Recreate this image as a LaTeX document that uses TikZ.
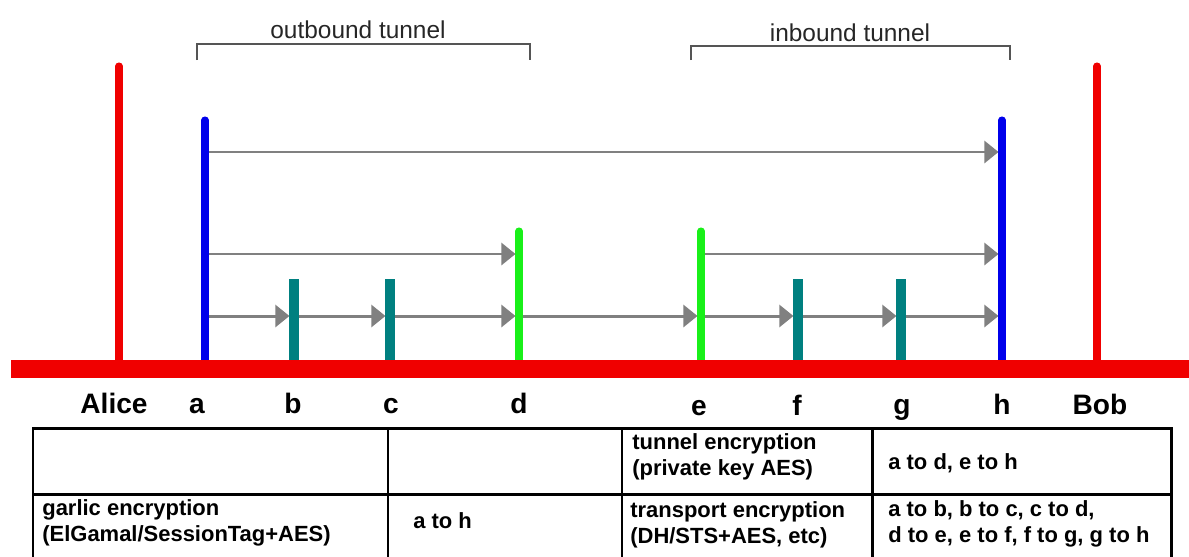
\documentclass[tikz,border=0pt]{standalone}
\usepackage{fontspec}
\setmainfont{Liberation Sans}
\usepackage{xcolor}
\definecolor{hostred}{RGB}{240,0,0}
\definecolor{gwblue}{RGB}{0,0,235}
\definecolor{endgreen}{RGB}{25,240,25}
\definecolor{hopteal}{RGB}{0,128,128}
\definecolor{msggray}{RGB}{128,128,128}
\definecolor{brkgray}{RGB}{85,85,85}
\usepackage{tikz}
\usetikzlibrary{arrows.meta}

\begin{document}
\begin{tikzpicture}[x=0.2mm,y=-0.2mm,
host/.style={draw=hostred,line width=4pt,line cap=round},
gw/.style={draw=gwblue,line width=4pt,line cap=round},
ep/.style={draw=endgreen,line width=4pt,line cap=round},
hop/.style={draw=hopteal,line width=5.2pt},
msg/.style={-{Triangle[length=8pt,width=12.5pt]},draw=msggray,line width=1.7pt,shorten >=2pt},
brk/.style={draw=brkgray,line width=1.4pt},
grid/.style={draw=black,line width=1.7pt},
lbl/.style={font=\fontsize{16}{18}\selectfont\bfseries,anchor=base,inner sep=0pt},
tcap/.style={font=\fontsize{13.9}{16}\selectfont,text=black!85,anchor=base,inner sep=0pt},
cell/.style={font=\fontsize{12.5}{14.8}\selectfont\bfseries,align=left,anchor=west,inner sep=0pt}]
\useasboundingbox (0,0) rectangle (1189,556);
\coordinate (alice) at (119,360);
\coordinate (a) at (205,360);
\coordinate (b) at (294,360);
\coordinate (c) at (390,360);
\coordinate (d) at (519,360);
\coordinate (e) at (701,360);
\coordinate (f) at (798,360);
\coordinate (g) at (901,360);
\coordinate (h) at (1002,360);
\coordinate (bob) at (1097,360);
\coordinate (r1) at (0,152);
\coordinate (r2) at (0,254);
\coordinate (r3) at (0,316);
\draw[msg] (a |- r1)--(h |- r1);
\draw[msg] (a |- r2)--(d |- r2);
\draw[msg] (e |- r2)--(h |- r2);
\draw[msg,shorten >=2.6pt] (a |- r3)--(b |- r3);
\draw[msg,shorten >=2.6pt] (b |- r3)--(c |- r3);
\draw[msg] (c |- r3)--(d |- r3);
\draw[msg] (d |- r3)--(e |- r3);
\draw[msg,shorten >=2.6pt] (e |- r3)--(f |- r3);
\draw[msg,shorten >=2.6pt] (f |- r3)--(g |- r3);
\draw[msg] (g |- r3)--(h |- r3);
\draw[host] (alice)--++(0,-294);
\draw[host] (bob)--++(0,-294);
\draw[gw] (a)--++(0,-240);
\draw[gw] (h)--++(0,-240);
\draw[ep] (d)--++(0,-129);
\draw[ep] (e)--++(0,-129);
\draw[hop] (b)--++(0,-81);
\draw[hop] (c)--++(0,-81);
\draw[hop] (f)--++(0,-81);
\draw[hop] (g)--++(0,-81);
\coordinate (bw) at (11,369);
\coordinate (be) at (1195,369);
\draw[hostred,line width=10.2pt] (bw)--(be);
\draw[brk] (197,60)--(197,44)--(530,44)--(530,60);
\draw[brk] (691,60)--(691,46)--(1010,46)--(1010,60);
\node[tcap] (outcap) at (358,38) {outbound tunnel};
\node[tcap] (incap) at (850,41) {inbound tunnel};
\node[lbl] (lalice) at (114,413) {Alice};
\node[lbl] (la) at (197,413) {a};
\node[lbl] (lb) at (293,413) {b};
\node[lbl] (lc) at (391,413) {c};
\node[lbl] (ld) at (519,413) {d};
\node[lbl] (le) at (699,415) {e};
\node[lbl] (lf) at (797,415) {f};
\node[lbl] (lg) at (902,414) {g};
\node[lbl] (lh) at (1002,414) {h};
\node[lbl] (lbob) at (1100,414) {Bob};
\draw[grid] (33,428) rectangle (1171,562);
\draw[grid] (33,494)--(1171,494);
\draw[grid] (388,428)--(388,562);
\draw[grid] (622,428)--(622,562);
\draw[grid] (872,428)--(872,562);
\node[cell] (garlic) at (42,523) {garlic encryption\\(ElGamal/SessionTag+AES)};
\node[cell] (garlicspan) at (413,521) {a to h};
\node[cell] (tunnel) at (632,457) {tunnel encryption\\(private key AES)};
\node[cell] (tunnelspan) at (888,463) {a to d, e to h};
\node[cell] (transport) at (630,525) {transport encryption\\(DH/STS+AES, etc)};
\node[cell] (transportspan) at (888,524) {a to b, b to c, c to d,\\d to e, e to f, f to g, g to h};
\end{tikzpicture}
\end{document}
